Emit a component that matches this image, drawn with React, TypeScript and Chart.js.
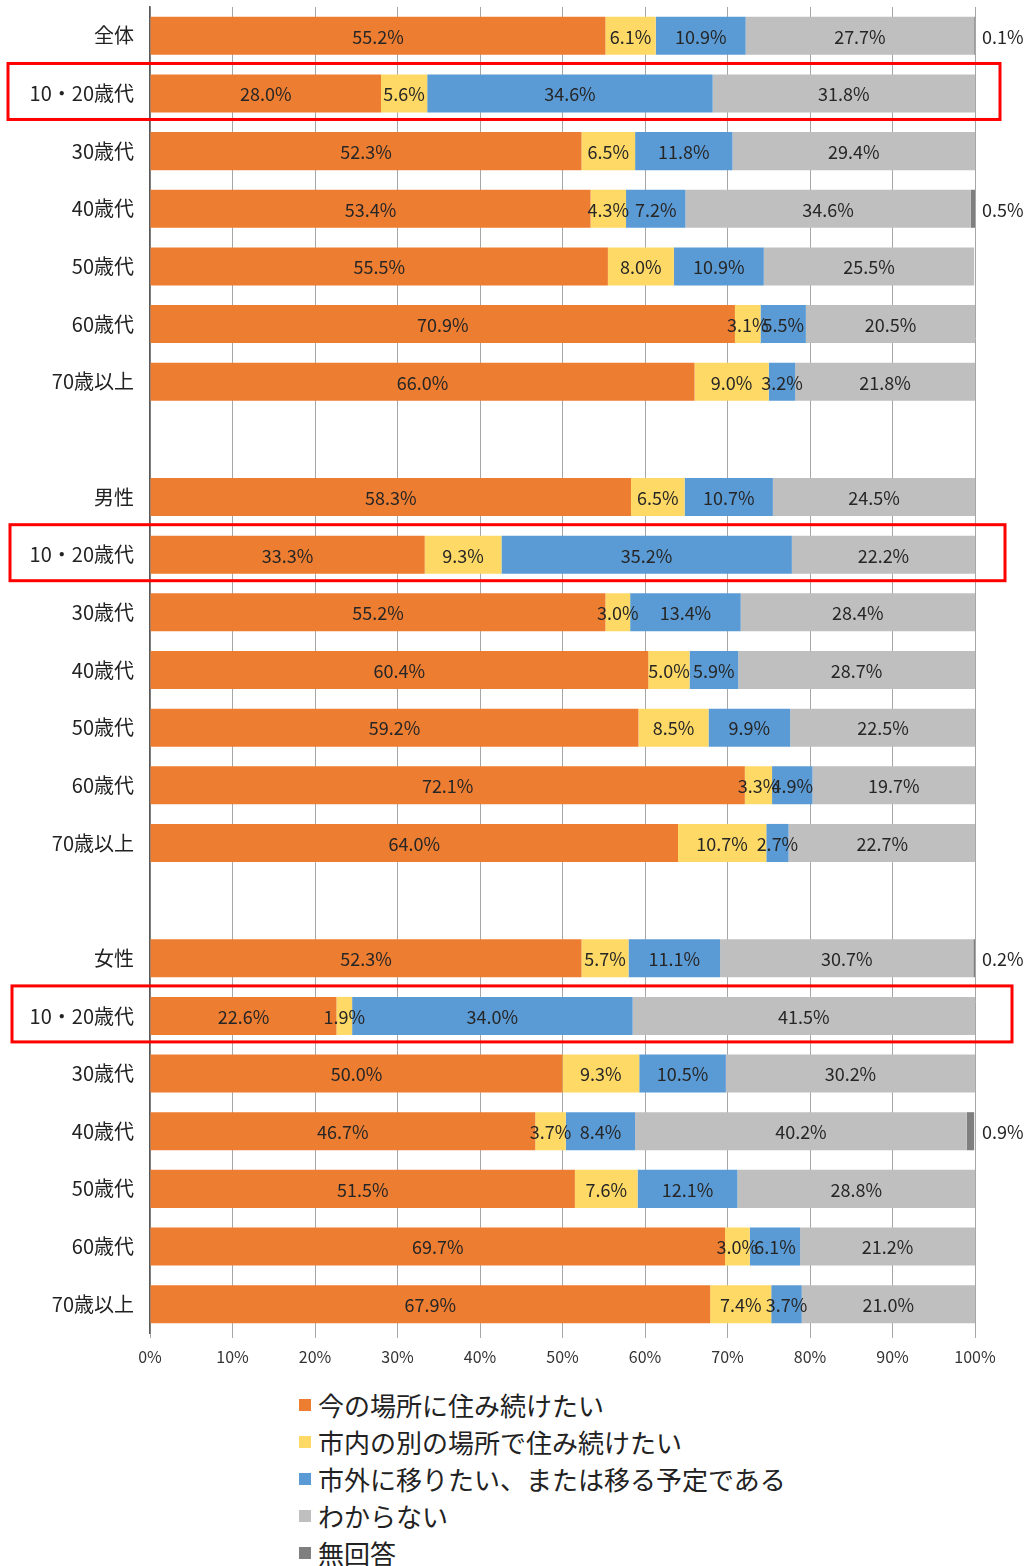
import { useEffect, useRef } from 'react';
import { Chart, registerables } from 'chart.js';

Chart.register(...registerables);

const categories = [
  '全体', '10・20歳代', '30歳代', '40歳代', '50歳代', '60歳代', '70歳以上',
  '',
  '男性', '10・20歳代', '30歳代', '40歳代', '50歳代', '60歳代', '70歳以上',
  '',
  '女性', '10・20歳代', '30歳代', '40歳代', '50歳代', '60歳代', '70歳以上',
];

const seriesLabels = [
  '今の場所に住み続けたい',
  '市内の別の場所で住み続けたい',
  '市外に移りたい、または移る予定である',
  'わからない',
  '無回答',
];

const seriesColors = ['#ED7D31', '#FFD966', '#5B9BD5', '#BFBFBF', '#7F7F7F'];

const stayHere = [55.2, 28.0, 52.3, 53.4, 55.5, 70.9, 66.0, null, 58.3, 33.3, 55.2, 60.4, 59.2, 72.1, 64.0, null, 52.3, 22.6, 50.0, 46.7, 51.5, 69.7, 67.9];
const moveWithinCity = [6.1, 5.6, 6.5, 4.3, 8.0, 3.1, 9.0, null, 6.5, 9.3, 3.0, 5.0, 8.5, 3.3, 10.7, null, 5.7, 1.9, 9.3, 3.7, 7.6, 3.0, 7.4];
const moveOutOfCity = [10.9, 34.6, 11.8, 7.2, 10.9, 5.5, 3.2, null, 10.7, 35.2, 13.4, 5.9, 9.9, 4.9, 2.7, null, 11.1, 34.0, 10.5, 8.4, 12.1, 6.1, 3.7];
const dontKnow = [27.7, 31.8, 29.4, 34.6, 25.5, 20.5, 21.8, null, 24.5, 22.2, 28.4, 28.7, 22.5, 19.7, 22.7, null, 30.7, 41.5, 30.2, 40.2, 28.8, 21.2, 21.0];
const noAnswer = [0.1, 0, 0, 0.5, 0, 0, 0, null, 0, 0, 0, 0, 0, 0, 0, null, 0.2, 0, 0, 0.9, 0, 0, 0];

const seriesValues = [stayHere, moveWithinCity, moveOutOfCity, dontKnow, noAnswer];

const xTickValues = [0, 10, 20, 30, 40, 50, 60, 70, 80, 90, 100];

// rows framed with a red box (10・20歳代 rows)
const highlightedRows = [1, 9, 17];
const highlightLeft = [8, 10, 12];
const highlightRight = [1000, 1005, 1012];

const FONT = '"Noto Sans CJK JP", "Noto Sans", sans-serif';
const OUTSIDE_INDEX = 4;

const segmentLabelPlugin = {
  id: 'segmentLabels',
  afterDatasetsDraw(chart: any) {
    const ctx = chart.ctx;
    ctx.save();
    ctx.font = `18px ${FONT}`;
    ctx.textBaseline = 'middle';
    ctx.fillStyle = '#262626';
    chart.data.datasets.forEach((ds: any, di: number) => {
      const meta = chart.getDatasetMeta(di);
      meta.data.forEach((el: any, i: number) => {
        const v = ds.data[i];
        if (v == null || v <= 0) return;
        const p = el.getProps(['x', 'y', 'base'], true);
        const text = v.toFixed(1) + '%';
        if (di === OUTSIDE_INDEX) {
          ctx.textAlign = 'left';
          ctx.fillText(text, chart.chartArea.right + 7, p.y + 1);
        } else {
          ctx.textAlign = 'center';
          ctx.fillText(text, (p.x + p.base) / 2, p.y + 1);
        }
      });
    });
    ctx.restore();
  },
};

const highlightPlugin = {
  id: 'highlightRows',
  afterDraw(chart: any) {
    const ctx = chart.ctx;
    const yScale = chart.scales.y;
    ctx.save();
    ctx.strokeStyle = '#FF0000';
    ctx.lineWidth = 3;
    highlightedRows.forEach((row, k) => {
      const cy = yScale.getPixelForValue(row);
      const left = highlightLeft[k];
      const right = highlightRight[k];
      ctx.strokeRect(left, cy - 30, right - left, 56);
    });
    ctx.restore();
  },
};

export default function App() {
  const canvasRef = useRef<HTMLCanvasElement | null>(null);

  useEffect(() => {
    if (!canvasRef.current) return;
    const chart = new Chart(canvasRef.current, {
      type: 'bar',
      data: {
        labels: categories,
        datasets: seriesValues.map((vals, i) => ({
          label: seriesLabels[i],
          data: vals as any,
          backgroundColor: seriesColors[i],
          borderWidth: 0,
          categoryPercentage: 1,
          barPercentage: 0.66,
        })),
      },
      options: {
        indexAxis: 'y',
        animation: false,
        responsive: false,
        maintainAspectRatio: false,
        layout: { padding: { left: 0, right: 56, top: 7, bottom: 0 } },
        plugins: {
          legend: { display: false },
          tooltip: { enabled: false },
        },
        scales: {
          x: {
            stacked: true,
            min: 0,
            max: 100,
            afterFit: (scale: any) => {
              scale.height = 47;
              scale.paddingLeft = 0;
              scale.paddingRight = 0;
            },
            afterBuildTicks: (scale: any) => {
              scale.ticks = xTickValues.map((v) => ({ value: v }));
            },
            ticks: {
              callback: (v: any) => `${v}%`,
              font: { family: FONT, size: 16 },
              color: '#333333',
              padding: 9,
            },
            grid: {
              color: '#A6A6A6',
              lineWidth: 1,
              tickLength: 5,
            },
            border: { display: false },
          },
          y: {
            stacked: true,
            afterFit: (scale: any) => {
              scale.width = 150;
              scale.paddingTop = 0;
              scale.paddingBottom = 0;
            },
            ticks: {
              font: { family: FONT, size: 20 },
              color: '#222222',
              padding: 8,
            },
            grid: { display: false },
            border: { display: true, color: '#595959', width: 1.5 },
          },
        },
      },
      plugins: [segmentLabelPlugin, highlightPlugin],
    });
    return () => chart.destroy();
  }, []);

  return (
    <div style={{ position: 'absolute', left: 0, top: 0, width: 1031, height: 1566, background: '#ffffff' }}>
      <canvas ref={canvasRef} width={1031} height={1380} style={{ display: 'block' }} />
      <div style={{ position: 'absolute', left: 299, top: 1386, fontFamily: FONT, fontSize: 26, color: '#222222' }}>
        {seriesLabels.map((label, i) => (
          <div key={label} style={{ display: 'flex', alignItems: 'center', height: 37, whiteSpace: 'nowrap' }}>
            <span style={{ display: 'inline-block', width: 12, height: 12, background: seriesColors[i], marginRight: 7 }} />
            <span>{label}</span>
          </div>
        ))}
      </div>
    </div>
  );
}
